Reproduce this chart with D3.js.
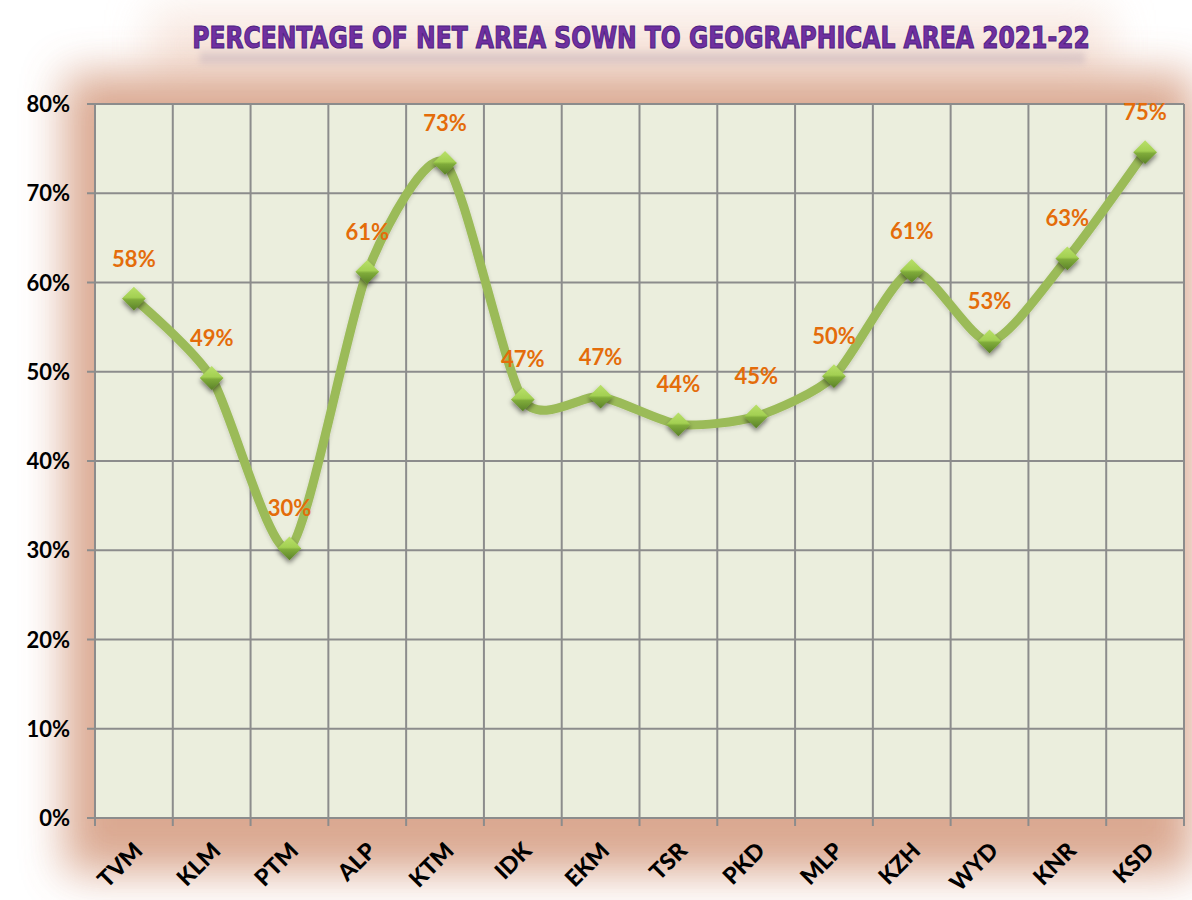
<!DOCTYPE html>
<html>
<head>
<meta charset="utf-8">
<script src="https://cdn.jsdelivr.net/npm/d3@7"></script>
<style>
  body { margin: 0; background: #ffffff; }
  svg { display: block; }
</style>
</head>
<body>
<svg id="chart" width="1192" height="900"></svg>
<script>
// districts and their net area sown as share of geographical area
var districts = ['TVM', 'KLM', 'PTM', 'ALP', 'KTM', 'IDK', 'EKM', 'TSR', 'PKD', 'MLP', 'KZH', 'WYD', 'KNR', 'KSD']
var shareSown = [0.582, 0.493, 0.302, 0.612, 0.734, 0.469, 0.472, 0.441, 0.450, 0.495, 0.613, 0.534, 0.627, 0.746]
var yTicks = [0, 0.1, 0.2, 0.3, 0.4, 0.5, 0.6, 0.7, 0.8]
var titleText = 'PERCENTAGE OF NET AREA SOWN TO GEOGRAPHICAL AREA 2021-22'

var plot = {'left': 95, 'right': 1184, 'top': 104, 'bottom': 818}
var svg = d3.select('#chart')
var defs = svg.append('defs')

// soft reddish glow behind the plot area
defs.append('filter').attr('id', 'glow')
    .attr('x', '-20%').attr('y', '-20%').attr('width', '140%').attr('height', '140%')
    .append('feGaussianBlur').attr('stdDeviation', 22)
defs.append('filter').attr('id', 'blur4')
    .attr('x', '-10%').attr('y', '-50%').attr('width', '120%').attr('height', '200%')
    .append('feGaussianBlur').attr('stdDeviation', 3)
var shadow = defs.append('filter').attr('id', 'shadow')
    .attr('x', '-50%').attr('y', '-50%').attr('width', '200%').attr('height', '200%')
shadow.append('feGaussianBlur').attr('in', 'SourceAlpha').attr('stdDeviation', 2.5)
shadow.append('feOffset').attr('dx', 0).attr('dy', 3).attr('result', 'b')
shadow.append('feComponentTransfer').append('feFuncA').attr('type', 'linear').attr('slope', 0.5)
var merge = shadow.append('feMerge')
merge.append('feMergeNode')
merge.append('feMergeNode').attr('in', 'SourceGraphic')

var lineShadow = defs.append('filter').attr('id', 'lineshadow')
    .attr('x', '-10%').attr('y', '-10%').attr('width', '120%').attr('height', '120%')
lineShadow.append('feGaussianBlur').attr('in', 'SourceAlpha').attr('stdDeviation', 2)
lineShadow.append('feOffset').attr('dx', 0).attr('dy', 2)
lineShadow.append('feComponentTransfer').append('feFuncA').attr('type', 'linear').attr('slope', 0.15)
var lmerge = lineShadow.append('feMerge')
lmerge.append('feMergeNode')
lmerge.append('feMergeNode').attr('in', 'SourceGraphic')

var diamondGrad = defs.append('linearGradient').attr('id', 'diamond')
    .attr('x1', 0).attr('y1', 0).attr('x2', 0).attr('y2', 1)
diamondGrad.append('stop').attr('offset', '0%').attr('stop-color', '#b9e06a')
diamondGrad.append('stop').attr('offset', '45%').attr('stop-color', '#a3d052')
diamondGrad.append('stop').attr('offset', '55%').attr('stop-color', '#7fab3a')
diamondGrad.append('stop').attr('offset', '100%').attr('stop-color', '#5a8128')

svg.append('rect')
    .attr('x', 150).attr('y', 10).attr('width', 960).attr('height', 70)
    .attr('fill', '#f6e2d8')
    .attr('filter', 'url(#glow)')
    .attr('opacity', 0.8)
svg.append('rect')
    .attr('x', plot.left - 30).attr('y', plot.top - 30)
    .attr('width', plot.right - plot.left + 40).attr('height', plot.bottom - plot.top + 85)
    .attr('fill', '#d49a7e')
    .attr('filter', 'url(#glow)')
    .attr('opacity', 0.85)

var xScale = d3.scaleBand()
    .domain(districts)
    .range([plot.left, plot.right])
var yScale = d3.scaleLinear()
    .domain([0, 0.8])
    .range([plot.bottom, plot.top])

// plot background
svg.append('rect')
    .attr('x', plot.left).attr('y', plot.top)
    .attr('width', plot.right - plot.left).attr('height', plot.bottom - plot.top)
    .attr('fill', '#ebeedd')

// horizontal grid
svg.append('g')
    .selectAll('line')
    .data(yTicks)
    .enter()
    .append('line')
    .attr('x1', plot.left - 8).attr('x2', plot.right)
    .attr('y1', function(d) { return yScale(d) })
    .attr('y2', function(d) { return yScale(d) })
    .attr('stroke', '#8c8c8c').attr('stroke-width', 2)

// vertical grid, one line per band edge
var edges = districts.map(function(d) { return xScale(d) }).concat([plot.right])
svg.append('g')
    .selectAll('line')
    .data(edges)
    .enter()
    .append('line')
    .attr('x1', function(d) { return d }).attr('x2', function(d) { return d })
    .attr('y1', plot.top).attr('y2', plot.bottom + 8)
    .attr('stroke', '#8c8c8c').attr('stroke-width', 2)

// y labels
svg.append('g')
    .selectAll('text')
    .data(yTicks)
    .enter()
    .append('text')
    .attr('x', plot.left - 25)
    .attr('y', function(d) { return yScale(d) + 8 })
    .attr('text-anchor', 'end')
    .attr('font-family', 'Lato, "Open Sans", sans-serif')
    .attr('font-weight', 'bold')
    .attr('font-size', 22)
    .attr('fill', '#000')
    .text(function(d) { return d3.format('.0%')(d) })

// x labels, rotated
svg.append('g')
    .selectAll('text')
    .data(districts)
    .enter()
    .append('text')
    .attr('transform', function(d) {
        var cx = xScale(d) + xScale.bandwidth() / 2
        return 'translate(' + (cx - 2) + ',' + (plot.bottom + 22) + ') rotate(-45)'
    })
    .attr('text-anchor', 'end')
    .attr('dy', '0.75em')
    .attr('font-family', 'Lato, "Open Sans", sans-serif')
    .attr('font-weight', 900)
    .attr('font-size', 23)
    .attr('fill', '#000')
    .text(function(d) { return d })

var points = districts.map(function(d, i) {
    return [xScale(d) + xScale.bandwidth() / 2, yScale(shareSown[i])]
})

var line = d3.line().curve(d3.curveCardinal.tension(0.3))
svg.append('path')
    .attr('d', line(points))
    .attr('fill', 'none')
    .attr('stroke', '#9bbb59')
    .attr('stroke-width', 9)
    .attr('stroke-linejoin', 'round')
    .attr('filter', 'url(#lineshadow)')

svg.append('g')
    .selectAll('path')
    .data(points)
    .enter()
    .append('path')
    .attr('d', d3.symbol().type(d3.symbolDiamond2).size(360))
    .attr('transform', function(d) { return 'translate(' + d[0] + ',' + d[1] + ')' })
    .attr('fill', 'url(#diamond)')
    .attr('filter', 'url(#shadow)')

// value labels
svg.append('g')
    .selectAll('text')
    .data(shareSown)
    .enter()
    .append('text')
    .attr('x', function(d, i) { return points[i][0] })
    .attr('y', function(d, i) { return points[i][1] - 32 })
    .attr('text-anchor', 'middle')
    .attr('font-family', 'Lato, "Open Sans", sans-serif')
    .attr('font-weight', 'bold')
    .attr('font-size', 22)
    .attr('fill', '#e46c0a')
    .text(function(d) { return d3.format('.0%')(d) })

// faint smear under the title, standing in for its reflection
svg.append('rect')
    .attr('x', 200).attr('y', 52).attr('width', 885).attr('height', 12)
    .attr('fill', '#b8a8b8')
    .attr('opacity', 0.35)
    .attr('filter', 'url(#blur4)')

// title: squeeze horizontally to the width seen in the reference
var titleG = svg.append('g')
var title = titleG.append('text')
    .attr('x', 0).attr('y', 0)
    .attr('text-anchor', 'middle')
    .attr('font-family', '"DejaVu Sans Condensed", "DejaVu Sans", sans-serif')
    .attr('font-weight', 'bold')
    .attr('font-size', 30)
    .attr('fill', '#7030a0')
    .attr('stroke', '#4b2080')
    .attr('stroke-width', 1)
    .text(titleText)
var titleW = title.node().getComputedTextLength()
titleG.attr('transform', 'translate(641,48) scale(' + (898 / titleW) + ',1)')
</script>
</body>
</html>
